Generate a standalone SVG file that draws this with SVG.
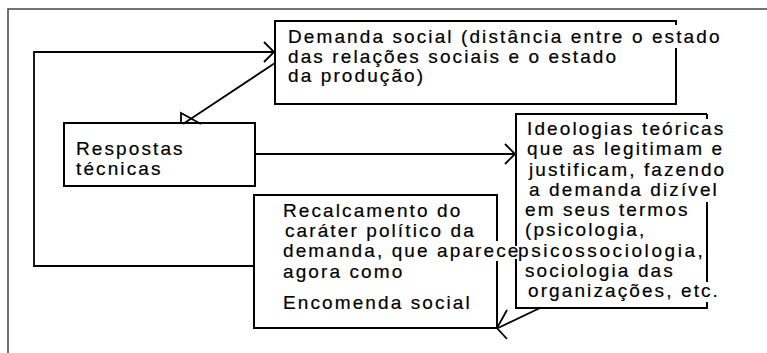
<svg xmlns="http://www.w3.org/2000/svg" width="767" height="353" viewBox="0 0 767 353">
<defs>
<style>
.box{fill:none;stroke:#000;stroke-width:2}
.ln{fill:none;stroke:#000;stroke-width:1.8}
.frame{fill:none;stroke:#444;stroke-width:1.5}
text{font-family:"Liberation Sans",Arial,Helvetica,sans-serif;font-size:19px;letter-spacing:2.1px;fill:#000;stroke:#000;stroke-width:0.2}
</style>
<marker id="chev" markerWidth="14" markerHeight="24" refX="12" refY="12" orient="auto" markerUnits="userSpaceOnUse">
<path d="M2,2 L12,12 L2,22" fill="none" stroke="#000" stroke-width="1.8"/>
</marker>
</defs>
<rect width="767" height="353" fill="#fff"/>
<path class="frame" d="M8,353 V9 H767"/>
<g id="connectors">
<path class="ln" d="M254,266 H34 V52 H274" marker-end="url(#chev)"/>
<path class="ln" d="M255,154 H515" marker-end="url(#chev)"/>
<path class="ln" d="M275,63 L183,124"/>
<polyline class="ln" points="181,124 181,113 201,124"/>
<path class="ln" d="M540,308 L498,328"/>
<polyline class="ln" points="507,310 497,328 507,339"/>
</g>
<g id="demanda">
<path class="box" d="M676,48 V104 H275 V21 H676 V25"/>
<text x="288" y="43">Demanda social (distância entre o estado</text>
<text x="288" y="62.5">das relações sociais e o estado</text>
<text x="288" y="82">da produção)</text>
</g>
<g id="respostas">
<rect class="box" x="64" y="123" width="191" height="63"/>
<text x="76" y="155">Respostas</text>
<text x="76" y="175">técnicas</text>
</g>
<g id="ideologias">
<path class="box" d="M707,114 H516 V246 M516,259 V308 H707 V302 M707,282 V202 M707,114 V119"/>
<text x="527" y="134.5">Ideologias teóricas</text>
<text x="527" y="155">que as legitimam e</text>
<text x="529" y="175.5">justificam, fazendo</text>
<text x="529" y="195.5">a demanda dizível</text>
<text x="525" y="216">em seus termos</text>
<text x="525" y="236">(psicologia,</text>
<text x="518" y="256.5" textLength="187" lengthAdjust="spacing">psicossociologia,</text>
<text x="525" y="277">sociologia das</text>
<text x="528" y="297">organizações, etc.</text>
</g>
<g id="recalcamento">
<path class="box" d="M497,241 V195 H254 V328 H497 V261"/>
<text x="283" y="216.5">Recalcamento do</text>
<text x="285" y="236.5">caráter político da</text>
<text x="283" y="256.5">demanda, que aparece</text>
<text x="283" y="278">agora como</text>
<text x="283" y="309">Encomenda social</text>
</g>
</svg>
